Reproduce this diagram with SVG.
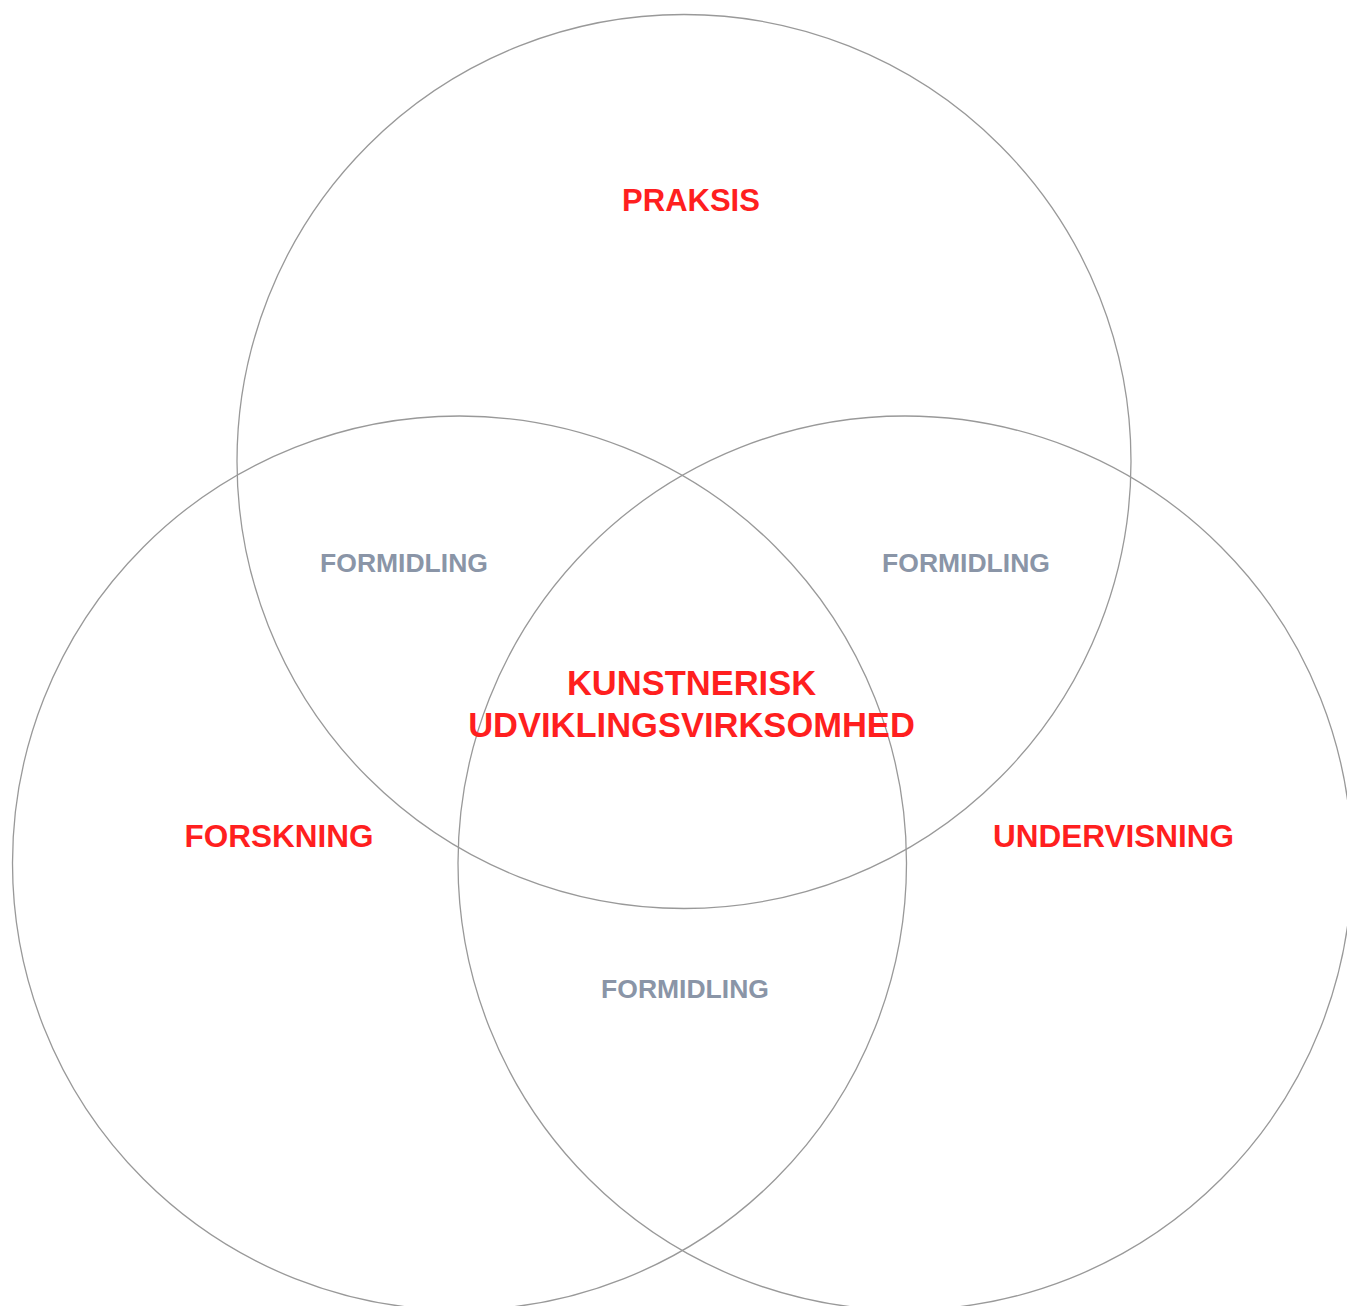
<svg xmlns="http://www.w3.org/2000/svg" width="1347" height="1306" viewBox="0 0 1347 1306">
<style>
.c{fill:none;stroke:#999999;stroke-width:1.3}
.r{font-family:"Liberation Sans",Arial,sans-serif;font-weight:bold;fill:#ff1f1f;text-anchor:middle}
.g{font-family:"Liberation Sans",Arial,sans-serif;font-weight:bold;fill:#8a95a7;text-anchor:middle;font-size:26.5px}
</style>
<rect width="1347" height="1306" fill="#ffffff"/>
<g id="praksis">
<circle class="c" cx="684" cy="461.5" r="447"/>
<text class="r" x="691" y="211" font-size="31">PRAKSIS</text>
</g>
<g id="forskning">
<circle class="c" cx="459.5" cy="863" r="447"/>
<text class="r" x="279" y="847" font-size="31.5">FORSKNING</text>
</g>
<g id="undervisning">
<circle class="c" cx="905" cy="863" r="447"/>
<text class="r" x="1113.5" y="847" font-size="31.5">UNDERVISNING</text>
</g>
<g id="formidling-left"><text class="g" x="404" y="572">FORMIDLING</text></g>
<g id="formidling-right"><text class="g" x="966" y="572">FORMIDLING</text></g>
<g id="formidling-bottom"><text class="g" x="685" y="998">FORMIDLING</text></g>
<g id="center">
<text class="r" x="691.5" y="695" font-size="34.5">KUNSTNERISK</text>
<text class="r" x="691.5" y="737" font-size="34.5">UDVIKLINGSVIRKSOMHED</text>
</g>
<g id="connectors"></g>
</svg>
